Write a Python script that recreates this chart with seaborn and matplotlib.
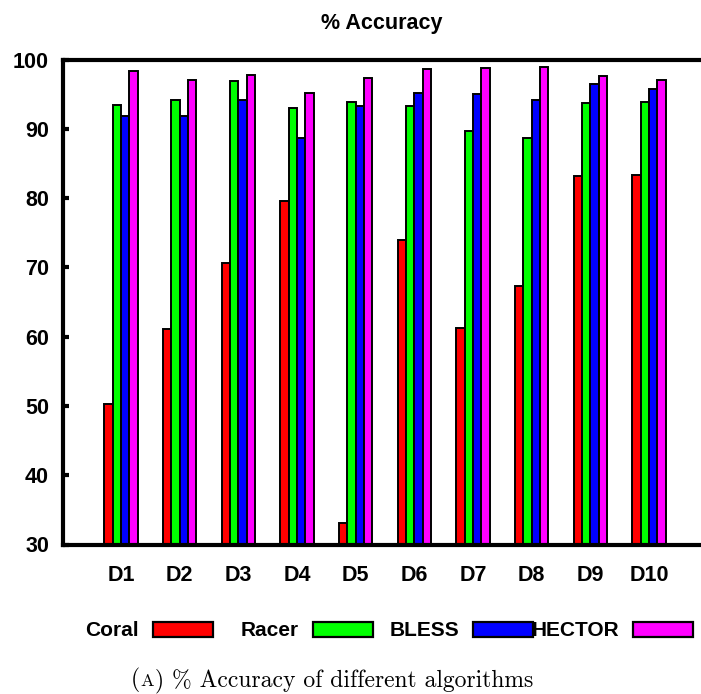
import matplotlib
matplotlib.use("Agg")
import matplotlib.pyplot as plt
from matplotlib.patches import Patch
import pandas as pd
import seaborn as sns

# ---- data -------------------------------------------------------------
datasets = ["D1", "D2", "D3", "D4", "D5", "D6", "D7", "D8", "D9", "D10"]
algorithms = ["Coral", "Racer", "BLESS", "HECTOR"]
coral = [50.3, 61.1, 70.7, 79.6, 33.1, 74.0, 61.2, 67.3, 83.2, 83.3]
racer = [93.5, 94.1, 96.9, 93.0, 93.8, 93.3, 89.7, 88.7, 93.7, 93.8]
bless = [91.9, 91.8, 94.1, 88.6, 93.3, 95.1, 95.0, 94.1, 96.5, 95.7]
hector = [98.4, 97.1, 97.7, 95.1, 97.3, 98.6, 98.8, 98.9, 97.6, 97.1]
y_ticks = [30, 40, 50, 60, 70, 80, 90, 100]

colors = ["#ff0000", "#00ff00", "#0000ff", "#ff00ff"]

df = pd.DataFrame({
    "dataset": datasets * 4,
    "algorithm": [a for a in algorithms for _ in datasets],
    "accuracy": coral + racer + bless + hector,
})

# ---- style ------------------------------------------------------------
sns.set_theme(style="white")
plt.rcParams["font.family"] = ["Liberation Sans", "DejaVu Sans"]
plt.rcParams["font.weight"] = "bold"
plt.rcParams["text.color"] = "black"
plt.rcParams["axes.labelcolor"] = "black"
plt.rcParams["xtick.color"] = "black"
plt.rcParams["ytick.color"] = "black"

W, H = 701, 694
fig = plt.figure(figsize=(W / 100, H / 100), dpi=100)
left_px, right_px, top_px, bottom_px = 63, 701, 59.5, 544.5
ax = fig.add_axes([left_px / W, (H - bottom_px) / H,
                   (right_px - left_px) / W, (bottom_px - top_px) / H])

sns.barplot(data=df, x="dataset", y="accuracy", hue="algorithm",
            hue_order=algorithms, order=datasets, palette=colors,
            saturation=1, width=0.57, gap=0, edgecolor="black",
            linewidth=1.4, errorbar=None, legend=False, ax=ax)

ax.set_ylim(30, 100)
ax.set_xlim(-0.99, 9.886)
ax.set_yticks(y_ticks)
ax.set_yticklabels([str(v) for v in y_ticks])
ax.set_xlabel("")
ax.set_ylabel("")

for side in ("left", "bottom", "top"):
    ax.spines[side].set_visible(True)
    ax.spines[side].set_color("black")
    ax.spines[side].set_linewidth(3.0)
ax.spines["right"].set_visible(False)

ax.tick_params(axis="y", direction="in", length=4, width=3, pad=10,
               labelsize=15.5, colors="black", labelcolor="black", left=True)
ax.tick_params(axis="x", length=0, pad=14.5, labelsize=15.5,
               colors="black", labelcolor="black")
for lab in ax.get_xticklabels() + ax.get_yticklabels():
    lab.set_fontweight("bold")
    lab.set_color("black")

ax.set_title("% Accuracy", fontsize=15.5, fontweight="bold", pad=22,
             color="black")

# ---- key: label to the left of each swatch -----------------------------
key_y = (H - 631) / H
swatch_right = [212.5, 372.5, 533.0, 693.0]
for name, col, xr in zip(algorithms, colors, swatch_right):
    leg = fig.legend(handles=[Patch(facecolor=col, edgecolor="black", linewidth=1.6)],
                     labels=[name], loc="center right",
                     bbox_to_anchor=(xr / W, key_y), markerfirst=False,
                     frameon=False, borderpad=0, borderaxespad=0,
                     handlelength=2.88, handleheight=0.7, handletextpad=0.67,
                     prop={"family": "Liberation Sans", "weight": "bold",
                           "size": 15})
    for t in leg.get_texts():
        t.set_color("black")

# ---- caption (small-caps letter drawn smaller) -------------------------
cap_y = (H - 686) / H
cap_font = dict(family="cmr10", weight="normal", color="black")
pieces = [("(", 17), ("A", 13), (") % Accuracy of different algorithms", 17)]
fig.canvas.draw()
renderer = fig.canvas.get_renderer()
x_px = 131
for txt, size in pieces:
    t = fig.text(x_px / W, cap_y, txt, va="baseline", ha="left",
                 size=size, **cap_font)
    bb = t.get_window_extent(renderer)
    x_px = bb.x1 + 0.5

fig.savefig("out.png", dpi=100)
